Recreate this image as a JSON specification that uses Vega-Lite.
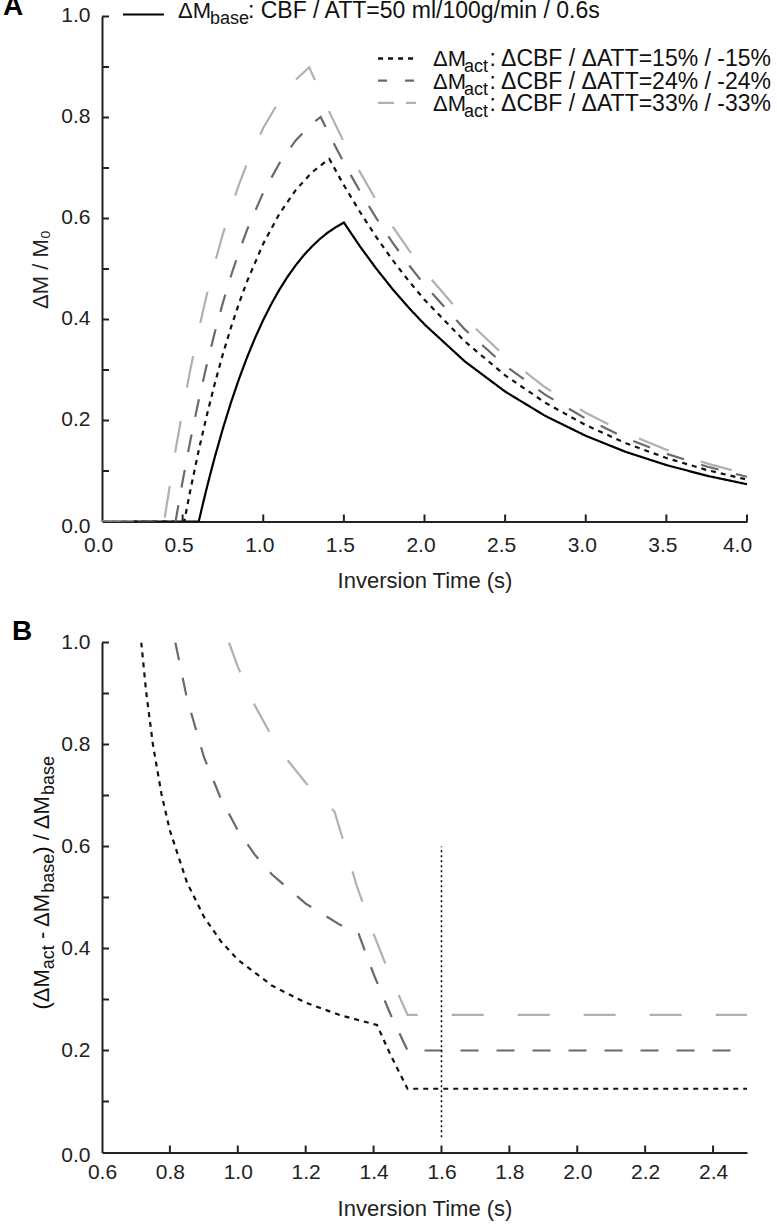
{
  "$schema": "https://vega.github.io/schema/vega-lite/v6.json",
  "padding": {"left": 2, "top": -7.5, "right": 0, "bottom": 5},
  "spacing": 26,
  "config": {
    "font": "Liberation Sans",
    "view": {"stroke": null},
    "axis": {
      "grid": false, "domainColor": "#222", "domainWidth": 2, "tickColor": "transparent", "tickWidth": 2, "tickSize": -6,
      "labelFontSize": 21, "labelColor": "#222", "labelOverlap": false, "labelFlush": false,
      "titleFontSize": 22, "titleFontWeight": "normal", "titleColor": "#222"
    }
  },
  "datasets": {
    "A": [
      {"s":"base","t":0,"v":0},{"s":"base","t":0.6,"v":0},{"s":"base","t":0.625,"v":0.0341},{"s":"base","t":0.65,"v":0.0668},{"s":"base","t":0.675,"v":0.0981},{"s":"base","t":0.7,"v":0.1281},{"s":"base","t":0.75,"v":0.1844},{"s":"base","t":0.8,"v":0.2358},{"s":"base","t":0.85,"v":0.2827},{"s":"base","t":0.9,"v":0.3254},{"s":"base","t":0.95,"v":0.3641},{"s":"base","t":1.0,"v":0.3991},{"s":"base","t":1.05,"v":0.4307},{"s":"base","t":1.1,"v":0.459},{"s":"base","t":1.15,"v":0.4843},{"s":"base","t":1.2,"v":0.5068},{"s":"base","t":1.25,"v":0.5267},{"s":"base","t":1.3,"v":0.544},{"s":"base","t":1.35,"v":0.5591},{"s":"base","t":1.4,"v":0.572},{"s":"base","t":1.45,"v":0.5829},{"s":"base","t":1.5,"v":0.592},{"s":"base","t":1.6,"v":0.5447},{"s":"base","t":1.7,"v":0.5011},{"s":"base","t":1.8,"v":0.461},{"s":"base","t":1.9,"v":0.4242},{"s":"base","t":2.0,"v":0.3903},{"s":"base","t":2.25,"v":0.317},{"s":"base","t":2.5,"v":0.2573},{"s":"base","t":2.75,"v":0.2089},{"s":"base","t":3.0,"v":0.1697},{"s":"base","t":3.25,"v":0.1376},{"s":"base","t":3.5,"v":0.1118},{"s":"base","t":3.75,"v":0.0907},{"s":"base","t":4.0,"v":0.0738},
      {"s":"15","t":0,"v":0},{"s":"15","t":0.51,"v":0},{"s":"15","t":0.55,"v":0.0653},{"s":"15","t":0.6,"v":0.141},{"s":"15","t":0.65,"v":0.2104},{"s":"15","t":0.7,"v":0.2739},{"s":"15","t":0.75,"v":0.3318},{"s":"15","t":0.8,"v":0.3846},{"s":"15","t":0.85,"v":0.4325},{"s":"15","t":0.9,"v":0.4759},{"s":"15","t":1.0,"v":0.5501},{"s":"15","t":1.1,"v":0.6093},{"s":"15","t":1.2,"v":0.6557},{"s":"15","t":1.3,"v":0.6908},{"s":"15","t":1.4,"v":0.7159},{"s":"15","t":1.41,"v":0.7179},{"s":"15","t":1.5,"v":0.666},{"s":"15","t":1.6,"v":0.6128},{"s":"15","t":1.7,"v":0.5637},{"s":"15","t":1.8,"v":0.5186},{"s":"15","t":1.9,"v":0.4773},{"s":"15","t":2.0,"v":0.4391},{"s":"15","t":2.25,"v":0.3566},{"s":"15","t":2.5,"v":0.2895},{"s":"15","t":2.75,"v":0.235},{"s":"15","t":3.0,"v":0.1909},{"s":"15","t":3.25,"v":0.1548},{"s":"15","t":3.5,"v":0.1258},{"s":"15","t":3.75,"v":0.102},{"s":"15","t":4.0,"v":0.083},
      {"s":"24","t":0,"v":0},{"s":"24","t":0.456,"v":0},{"s":"24","t":0.5,"v":0.0799},{"s":"24","t":0.55,"v":0.1638},{"s":"24","t":0.6,"v":0.2406},{"s":"24","t":0.65,"v":0.311},{"s":"24","t":0.7,"v":0.3751},{"s":"24","t":0.75,"v":0.4336},{"s":"24","t":0.8,"v":0.4866},{"s":"24","t":0.85,"v":0.5346},{"s":"24","t":0.9,"v":0.5779},{"s":"24","t":1.0,"v":0.6514},{"s":"24","t":1.1,"v":0.7094},{"s":"24","t":1.2,"v":0.7541},{"s":"24","t":1.3,"v":0.7871},{"s":"24","t":1.356,"v":0.801},{"s":"24","t":1.4,"v":0.7722},{"s":"24","t":1.5,"v":0.7104},{"s":"24","t":1.6,"v":0.6536},{"s":"24","t":1.7,"v":0.6013},{"s":"24","t":1.8,"v":0.5532},{"s":"24","t":1.9,"v":0.5091},{"s":"24","t":2.0,"v":0.4684},{"s":"24","t":2.25,"v":0.3804},{"s":"24","t":2.5,"v":0.3087},{"s":"24","t":2.75,"v":0.2507},{"s":"24","t":3.0,"v":0.2036},{"s":"24","t":3.25,"v":0.1651},{"s":"24","t":3.5,"v":0.1342},{"s":"24","t":3.75,"v":0.1089},{"s":"24","t":4.0,"v":0.0885},
      {"s":"33","t":0,"v":0},{"s":"33","t":0.385,"v":0},{"s":"33","t":0.45,"v":0.1303},{"s":"33","t":0.5,"v":0.221},{"s":"33","t":0.55,"v":0.3042},{"s":"33","t":0.6,"v":0.3802},{"s":"33","t":0.65,"v":0.4496},{"s":"33","t":0.7,"v":0.5125},{"s":"33","t":0.75,"v":0.5697},{"s":"33","t":0.8,"v":0.6213},{"s":"33","t":0.85,"v":0.6678},{"s":"33","t":0.9,"v":0.7094},{"s":"33","t":1.0,"v":0.7793},{"s":"33","t":1.1,"v":0.8335},{"s":"33","t":1.2,"v":0.8743},{"s":"33","t":1.285,"v":0.8994},{"s":"33","t":1.4,"v":0.8172},{"s":"33","t":1.5,"v":0.7518},{"s":"33","t":1.6,"v":0.6918},{"s":"33","t":1.7,"v":0.6364},{"s":"33","t":1.8,"v":0.5855},{"s":"33","t":1.9,"v":0.5388},{"s":"33","t":2.0,"v":0.4957},{"s":"33","t":2.25,"v":0.4026},{"s":"33","t":2.5,"v":0.3267},{"s":"33","t":2.75,"v":0.2653},{"s":"33","t":3.0,"v":0.2154},{"s":"33","t":3.25,"v":0.1748},{"s":"33","t":3.5,"v":0.142},{"s":"33","t":3.75,"v":0.1152},{"s":"33","t":4.0,"v":0.0937}
    ],
    "B": [
      {"s":"15","t":0.7157,"v":1.0},{"s":"15","t":0.73,"v":0.9038},{"s":"15","t":0.75,"v":0.8},{"s":"15","t":0.775,"v":0.7036},{"s":"15","t":0.8,"v":0.6313},{"s":"15","t":0.85,"v":0.53},{"s":"15","t":0.9,"v":0.4625},{"s":"15","t":0.95,"v":0.4143},{"s":"15","t":1.0,"v":0.3781},{"s":"15","t":1.1,"v":0.3275},{"s":"15","t":1.2,"v":0.2938},{"s":"15","t":1.3,"v":0.2696},{"s":"15","t":1.41,"v":0.25},{"s":"15","t":1.45,"v":0.1912},{"s":"15","t":1.5,"v":0.125},{"s":"15","t":2.5,"v":0.125},
      {"s":"24","t":0.816,"v":1.0},{"s":"24","t":0.85,"v":0.8912},{"s":"24","t":0.9,"v":0.776},{"s":"24","t":0.95,"v":0.6937},{"s":"24","t":1.0,"v":0.632},{"s":"24","t":1.05,"v":0.584},{"s":"24","t":1.1,"v":0.5456},{"s":"24","t":1.2,"v":0.488},{"s":"24","t":1.3,"v":0.4469},{"s":"24","t":1.356,"v":0.4286},{"s":"24","t":1.4,"v":0.35},{"s":"24","t":1.45,"v":0.2706},{"s":"24","t":1.5,"v":0.2},{"s":"24","t":2.5,"v":0.2},
      {"s":"33","t":0.974,"v":1.0},{"s":"33","t":1.0,"v":0.9526},{"s":"33","t":1.05,"v":0.8768},{"s":"33","t":1.1,"v":0.8161},{"s":"33","t":1.15,"v":0.7665},{"s":"33","t":1.2,"v":0.7251},{"s":"33","t":1.25,"v":0.6901},{"s":"33","t":1.285,"v":0.6686},{"s":"33","t":1.35,"v":0.524},{"s":"33","t":1.4,"v":0.4288},{"s":"33","t":1.45,"v":0.3447},{"s":"33","t":1.5,"v":0.27},{"s":"33","t":2.5,"v":0.27}
    ],
    "one": [{}],
    "tickAx": [{"p":0.5},{"p":1},{"p":1.5},{"p":2},{"p":2.5},{"p":3},{"p":3.5},{"p":4}],
    "tickAy": [{"p":0.1},{"p":0.2},{"p":0.3},{"p":0.4},{"p":0.5},{"p":0.6},{"p":0.7},{"p":0.8},{"p":0.9},{"p":1.0}],
    "tickBx": [{"p":0.8},{"p":1.0},{"p":1.2},{"p":1.4},{"p":1.6},{"p":1.8},{"p":2.0},{"p":2.2},{"p":2.4}],
    "tickBy": [{"p":0.1},{"p":0.2},{"p":0.3},{"p":0.4},{"p":0.5},{"p":0.6},{"p":0.7},{"p":0.8},{"p":0.9},{"p":1.0}]
  },
  "vconcat": [
    {
      "width": 645, "height": 505,
      "layer": [
        {
          "data": {"name": "A"},
          "mark": {"type": "line", "clip": true, "strokeWidth": 2.2},
          "encoding": {
            "x": {"field": "t", "type": "quantitative", "scale": {"domain": [0, 4], "nice": false, "zero": false},
                  "axis": {"values": [0,0.5,1,1.5,2,2.5,3,3.5,4], "format": ".1f", "title": "Inversion Time (s)", "labelPadding": 18.5, "titlePadding": 15.5,
                           "labelOffset": {"condition": {"test": "datum.value == 4", "value": -10}, "value": -4}}},
            "y": {"field": "v", "type": "quantitative", "scale": {"domain": [0, 1], "nice": false},
                  "axis": {"values": [0,0.1,0.2,0.3,0.4,0.5,0.6,0.7,0.8,0.9,1.0], "labelExpr": "round(datum.value*10) % 2 == 0 ? format(datum.value, '.1f') : ''", "title": "ΔM / M₀", "labelPadding": 18, "titlePadding": 8,
                           "labelOffset": {"condition": {"test": "datum.value == 0", "value": 4.5}, "value": -1.5}}},
            "color": {"field": "s", "type": "nominal", "scale": {"domain": ["base","15","24","33"], "range": ["#000000","#111111","#6a6a6a","#b0b0b0"]}, "legend": null},
            "strokeDash": {"field": "s", "type": "nominal", "scale": {"domain": ["base","15","24","33"], "range": [[1,0],[5,5],[18,18],[32,34]]}, "legend": null}
          }
        },
        {"data": {"name": "tickAx"}, "mark": {"type": "rule", "color": "#222", "strokeWidth": 2}, "encoding": {"x": {"field": "p", "type": "quantitative"}, "y": {"datum": 0}, "y2": {"datum": 0.0139}}},
        {"data": {"name": "tickAy"}, "mark": {"type": "rule", "color": "#222", "strokeWidth": 2}, "encoding": {"y": {"field": "p", "type": "quantitative"}, "x": {"datum": 0}, "x2": {"datum": 0.0434}}},
        {"data": {"name": "one"}, "mark": {"type": "rule", "color": "#000", "strokeWidth": 2}, "encoding": {"x": {"datum": 0.13}, "x2": {"datum": 0.384}, "y": {"datum": 1.004}}},
        {"data": {"name": "one"}, "mark": {"type": "rule", "color": "#111", "strokeWidth": 2.5, "strokeDash": [5,5]}, "encoding": {"x": {"datum": 1.712}, "x2": {"datum": 1.947}, "y": {"datum": 0.917}}},
        {"data": {"name": "one"}, "mark": {"type": "rule", "color": "#6a6a6a", "strokeWidth": 2.2, "strokeDash": [9,18]}, "encoding": {"x": {"datum": 1.712}, "x2": {"datum": 1.947}, "y": {"datum": 0.873}}},
        {"data": {"name": "one"}, "mark": {"type": "rule", "color": "#b0b0b0", "strokeWidth": 2.2, "strokeDash": [16,12]}, "encoding": {"x": {"datum": 1.712}, "x2": {"datum": 1.947}, "y": {"datum": 0.829}}},
        {"data": {"name": "one"}, "mark": {"type": "text", "align": "left", "baseline": "alphabetic", "fontSize": 22, "color": "#111"}, "encoding": {"x": {"datum": 0.471}, "y": {"datum": 0.998}, "text": {"value": "ΔM"}}},
        {"data": {"name": "one"}, "mark": {"type": "text", "align": "left", "baseline": "alphabetic", "fontSize": 18, "dy": 6, "color": "#111"}, "encoding": {"x": {"datum": 0.670}, "y": {"datum": 0.998}, "text": {"value": "base"}}},
        {"data": {"name": "one"}, "mark": {"type": "text", "align": "left", "baseline": "alphabetic", "fontSize": 23, "color": "#111"}, "encoding": {"x": {"datum": 0.905}, "y": {"datum": 0.998}, "text": {"value": ": CBF / ATT=50 ml/100g/min / 0.6s"}}},
        {"data": {"name": "one"}, "mark": {"type": "text", "align": "left", "baseline": "alphabetic", "fontSize": 22, "color": "#111"}, "encoding": {"x": {"datum": 2.053}, "y": {"datum": 0.901}, "text": {"value": "ΔM"}}},
        {"data": {"name": "one"}, "mark": {"type": "text", "align": "left", "baseline": "alphabetic", "fontSize": 18, "dy": 6, "color": "#111"}, "encoding": {"x": {"datum": 2.245}, "y": {"datum": 0.901}, "text": {"value": "act"}}},
        {"data": {"name": "one"}, "mark": {"type": "text", "align": "right", "baseline": "alphabetic", "fontSize": 23, "color": "#111"}, "encoding": {"x": {"datum": 4.149}, "y": {"datum": 0.901}, "text": {"value": ": ΔCBF / ΔATT=15% / -15%"}}},
        {"data": {"name": "one"}, "mark": {"type": "text", "align": "left", "baseline": "alphabetic", "fontSize": 22, "color": "#111"}, "encoding": {"x": {"datum": 2.053}, "y": {"datum": 0.857}, "text": {"value": "ΔM"}}},
        {"data": {"name": "one"}, "mark": {"type": "text", "align": "left", "baseline": "alphabetic", "fontSize": 18, "dy": 6, "color": "#111"}, "encoding": {"x": {"datum": 2.245}, "y": {"datum": 0.857}, "text": {"value": "act"}}},
        {"data": {"name": "one"}, "mark": {"type": "text", "align": "right", "baseline": "alphabetic", "fontSize": 23, "color": "#111"}, "encoding": {"x": {"datum": 4.149}, "y": {"datum": 0.857}, "text": {"value": ": ΔCBF / ΔATT=24% / -24%"}}},
        {"data": {"name": "one"}, "mark": {"type": "text", "align": "left", "baseline": "alphabetic", "fontSize": 22, "color": "#111"}, "encoding": {"x": {"datum": 2.053}, "y": {"datum": 0.813}, "text": {"value": "ΔM"}}},
        {"data": {"name": "one"}, "mark": {"type": "text", "align": "left", "baseline": "alphabetic", "fontSize": 18, "dy": 6, "color": "#111"}, "encoding": {"x": {"datum": 2.245}, "y": {"datum": 0.813}, "text": {"value": "act"}}},
        {"data": {"name": "one"}, "mark": {"type": "text", "align": "right", "baseline": "alphabetic", "fontSize": 23, "color": "#111"}, "encoding": {"x": {"datum": 4.149}, "y": {"datum": 0.813}, "text": {"value": ": ΔCBF / ΔATT=33% / -33%"}}},
        {"data": {"name": "one"}, "mark": {"type": "text", "align": "left", "baseline": "alphabetic", "fontSize": 28, "fontWeight": "bold", "color": "#000"}, "encoding": {"x": {"datum": -0.614}, "y": {"datum": 1.002}, "text": {"value": "A"}}}
      ]
    },
    {
      "width": 645, "height": 510,
      "layer": [
        {
          "data": {"name": "B"},
          "mark": {"type": "line", "clip": true, "strokeWidth": 2.2},
          "encoding": {
            "x": {"field": "t", "type": "quantitative", "scale": {"domain": [0.6, 2.5], "nice": false, "zero": false},
                  "axis": {"values": [0.6,0.8,1.0,1.2,1.4,1.6,1.8,2.0,2.2,2.4], "format": ".1f", "title": "Inversion Time (s)", "labelPadding": 15, "titlePadding": 16}},
            "y": {"field": "v", "type": "quantitative", "scale": {"domain": [0, 1], "nice": false},
                  "axis": {"values": [0,0.1,0.2,0.3,0.4,0.5,0.6,0.7,0.8,0.9,1.0], "labelExpr": "round(datum.value*10) % 2 == 0 ? format(datum.value, '.1f') : ''", "title": null, "labelPadding": 18,
                           "labelOffset": {"condition": {"test": "datum.value == 0", "value": 2.5}, "value": 0}}},
            "color": {"field": "s", "type": "nominal", "scale": {"domain": ["15","24","33"], "range": ["#111111","#6a6a6a","#b0b0b0"]}, "legend": null},
            "strokeDash": {"field": "s", "type": "nominal", "scale": {"domain": ["15","24","33"], "range": [[5,5],[18,18],[32,34]]}, "legend": null}
          }
        },
        {"data": {"name": "tickBx"}, "mark": {"type": "rule", "color": "#222", "strokeWidth": 2}, "encoding": {"x": {"field": "p", "type": "quantitative"}, "y": {"datum": 0}, "y2": {"datum": 0.0137}}},
        {"data": {"name": "tickBy"}, "mark": {"type": "rule", "color": "#222", "strokeWidth": 2}, "encoding": {"y": {"field": "p", "type": "quantitative"}, "x": {"datum": 0.6}, "x2": {"datum": 0.6206}}},
        {"data": {"name": "one"}, "mark": {"type": "rule", "color": "#000", "strokeWidth": 1.5, "strokeDash": [2,3]}, "encoding": {"x": {"datum": 1.6}, "y": {"datum": 0.03}, "y2": {"datum": 0.6}}},
        {"data": {"name": "one"}, "mark": {"type": "text", "align": "left", "baseline": "alphabetic", "fontSize": 28, "fontWeight": "bold", "color": "#000"}, "encoding": {"x": {"datum": 0.335}, "y": {"datum": 1.004}, "text": {"value": "B"}}},
        {"data": {"name": "one"}, "mark": {"type": "text", "align": "left", "baseline": "middle", "angle": 270, "fontSize": 22, "color": "#111"}, "encoding": {"x": {"datum": 0.4235}, "y": {"datum": 0.2804}, "text": {"value": "(ΔM"}}},
        {"data": {"name": "one"}, "mark": {"type": "text", "align": "left", "baseline": "middle", "angle": 270, "fontSize": 18, "dy": 7, "color": "#111"}, "encoding": {"x": {"datum": 0.4235}, "y": {"datum": 0.3594}, "text": {"value": "act"}}},
        {"data": {"name": "one"}, "mark": {"type": "text", "align": "left", "baseline": "middle", "angle": 270, "fontSize": 22, "color": "#111"}, "encoding": {"x": {"datum": 0.4235}, "y": {"datum": 0.4184}, "text": {"value": "- ΔM"}}},
        {"data": {"name": "one"}, "mark": {"type": "text", "align": "left", "baseline": "middle", "angle": 270, "fontSize": 18, "dy": 7, "color": "#111"}, "encoding": {"x": {"datum": 0.4235}, "y": {"datum": 0.5094}, "text": {"value": "base"}}},
        {"data": {"name": "one"}, "mark": {"type": "text", "align": "left", "baseline": "middle", "angle": 270, "fontSize": 22, "color": "#111"}, "encoding": {"x": {"datum": 0.4235}, "y": {"datum": 0.5859}, "text": {"value": ") / ΔM"}}},
        {"data": {"name": "one"}, "mark": {"type": "text", "align": "left", "baseline": "middle", "angle": 270, "fontSize": 18, "dy": 7, "color": "#111"}, "encoding": {"x": {"datum": 0.4235}, "y": {"datum": 0.701}, "text": {"value": "base"}}}
      ]
    }
  ]
}
